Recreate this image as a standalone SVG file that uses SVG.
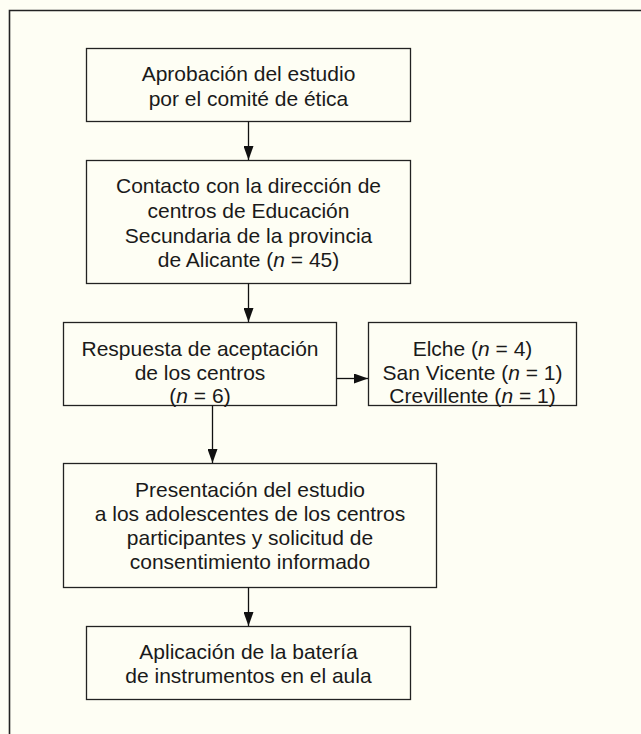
<svg xmlns="http://www.w3.org/2000/svg" width="641" height="734" viewBox="0 0 641 734">
<defs>
<marker id="ah" markerWidth="14" markerHeight="10" refX="14" refY="5" viewBox="0 0 14 10" markerUnits="userSpaceOnUse" orient="auto">
<path d="M0,0 L14,5 L0,10 Z" fill="#111"/>
</marker>
<style>
.box{fill:none;stroke:#222;stroke-width:1.3}
.t{font-family:"Liberation Sans",Arial,sans-serif;font-size:21px;fill:#1a1a1a;text-anchor:middle}
.c{stroke:#111;stroke-width:1.3;fill:none}
</style>
</defs>
<rect width="641" height="734" fill="#fefef4"/>
<path d="M9.5,734 V10.5 H641" fill="none" stroke="#222" stroke-width="1.6"/>
<g id="n1">
<rect class="box" x="86.5" y="48.5" width="324" height="73"/>
<text class="t" x="248.5" y="81">Aprobación del estudio</text>
<text class="t" x="248.5" y="106">por el comité de ética</text>
</g>
<g id="n2">
<rect class="box" x="86.5" y="160.5" width="324" height="123"/>
<text class="t" x="248.5" y="193">Contacto con la dirección de</text>
<text class="t" x="248.5" y="218">centros de Educación</text>
<text class="t" x="248.5" y="243">Secundaria de la provincia</text>
<text class="t" x="248.5" y="267">de Alicante (<tspan font-style="italic">n</tspan> = 45)</text>
</g>
<g id="n3">
<rect class="box" x="63.5" y="322.5" width="273" height="83"/>
<text class="t" x="200" y="356">Respuesta de aceptación</text>
<text class="t" x="200" y="380">de los centros</text>
<text class="t" x="200" y="403">(<tspan font-style="italic">n</tspan> = 6)</text>
</g>
<g id="n4">
<rect class="box" x="368.5" y="322.5" width="208" height="83"/>
<text class="t" x="472.5" y="356">Elche (<tspan font-style="italic">n</tspan> = 4)</text>
<text class="t" x="472.5" y="380">San Vicente (<tspan font-style="italic">n</tspan> = 1)</text>
<text class="t" x="472.5" y="403">Crevillente (<tspan font-style="italic">n</tspan> = 1)</text>
</g>
<g id="n5">
<rect class="box" x="63.5" y="463.5" width="373" height="124"/>
<text class="t" x="250" y="497">Presentación del estudio</text>
<text class="t" x="250" y="521">a los adolescentes de los centros</text>
<text class="t" x="250" y="545">participantes y solicitud de</text>
<text class="t" x="250" y="569">consentimiento informado</text>
</g>
<g id="n6">
<rect class="box" x="86.5" y="626.5" width="324" height="73"/>
<text class="t" x="248.5" y="659">Aplicación de la batería</text>
<text class="t" x="248.5" y="683">de instrumentos en el aula</text>
</g>
<g id="connectors">
<path class="c" d="M248.5,121.5 V160" marker-end="url(#ah)"/>
<path class="c" d="M248.5,283.5 V322" marker-end="url(#ah)"/>
<path class="c" d="M336.5,378.5 H368" marker-end="url(#ah)"/>
<path class="c" d="M212.5,405.5 V463" marker-end="url(#ah)"/>
<path class="c" d="M248.5,587.5 V626" marker-end="url(#ah)"/>
</g>
</svg>
